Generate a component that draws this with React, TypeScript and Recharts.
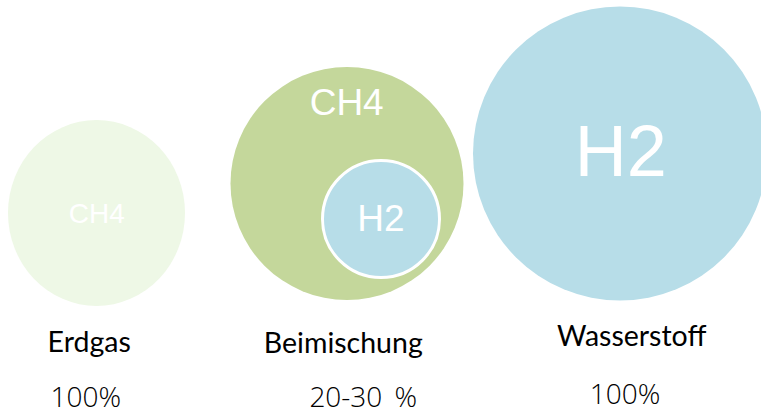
import React from 'react';
import { ScatterChart, Scatter, XAxis, YAxis, ZAxis } from 'recharts';

// gas mixes shown as bubbles
const gases = ['Erdgas', 'Beimischung', 'Wasserstoff'];
const shares = ['100%', '20-30 %', '100%'];
const bubbleGas = ['CH4', 'CH4', 'H2'];
const bubbleX = [96.5, 347, 620];
const bubbleY = [213, 183.5, 153.5];
const bubbleR = [88.5, 116.5, 147];
const bubbleStretch = [1.05, 1, 1];

// the hydrogen share inside the blend
const blendGas = ['H2'];
const blendX = [381];
const blendY = [219];
const blendR = [60];

// where the texts sit (baseline, centre)
const gasTextX = [96.7, 346.7, 620.8];
const gasTextY = [223.3, 115, 175.7];
const blendTextX = [381];
const blendTextY = [230.7];
const nameX = [89.2, 343.3, 631.7];
const nameY = [352, 353, 346];
const shareX = [85.8, 363.3, 625];
const shareY = [407, 407, 404];

const BUBBLE_COLORS = ['#eef8e6', '#c4d79b', '#b7dde8'];
const BLEND_COLOR = '#b7dde8';
const GAS_FONT = [28, 37, 72];
const BLEND_FONT = 37;

const bubbles = gases.map((g, i) => ({
    x: bubbleX[i],
    y: bubbleY[i],
    z: bubbleR[i] * bubbleR[i],
    stretch: bubbleStretch[i],
    fill: BUBBLE_COLORS[i],
}));
const blends = blendGas.map((g, i) => ({
    x: blendX[i],
    y: blendY[i],
    z: blendR[i] * blendR[i],
}));
const gasTexts = bubbleGas.map((t, i) => ({ x: gasTextX[i], y: gasTextY[i], text: t, size: GAS_FONT[i] }));
const blendTexts = blendGas.map((t, i) => ({ x: blendTextX[i], y: blendTextY[i], text: t, size: BLEND_FONT }));
const names = gases.map((t, i) => ({ x: nameX[i], y: nameY[i], text: t }));
const shareTexts = shares.map((t, i) => ({ x: shareX[i], y: shareY[i], text: t }));

const BubbleShape = (props: any) => {
    const { cx, cy, width, payload } = props;
    const r = width / 2;
    return <ellipse cx={cx} cy={cy} rx={r} ry={r * payload.stretch} fill={payload.fill} />;
};

const BlendShape = (props: any) => {
    const { cx, cy, width } = props;
    return <circle cx={cx} cy={cy} r={width / 2 - 1.5} fill={BLEND_COLOR} stroke="#ffffff" strokeWidth={3} />;
};

const makeText = (font: string, color: string, size?: number, weight?: number, spacing?: number) => (props: any) => {
    const { cx, cy, payload } = props;
    return (
        <text
            x={cx}
            y={cy}
            textAnchor="middle"
            fill={color}
            fontFamily={font}
            fontSize={payload.size ?? size}
            fontWeight={weight ?? 400}
            wordSpacing={spacing ?? 0}
        >
            {payload.text}
        </text>
    );
};

const App: React.FC = () => {
    return (
        <div style={{ position: 'absolute', left: 0, top: 0, background: '#ffffff' }}>
            <ScatterChart width={761} height={412} margin={{ top: 0, right: 0, bottom: 0, left: 0 }}>
                <XAxis type="number" dataKey="x" domain={[0, 761]} hide />
                <YAxis type="number" dataKey="y" domain={[0, 412]} reversed hide />
                <ZAxis type="number" dataKey="z" domain={[0, 100000]} range={[0, 100000 * Math.PI]} />
                <Scatter data={bubbles} shape={BubbleShape} isAnimationActive={false} />
                <Scatter data={blends} shape={BlendShape} isAnimationActive={false} />
                <Scatter data={gasTexts} shape={makeText('Liberation Sans, Arial, sans-serif', '#ffffff')} isAnimationActive={false} />
                <Scatter data={blendTexts} shape={makeText('Liberation Sans, Arial, sans-serif', '#ffffff')} isAnimationActive={false} />
                <Scatter data={names} shape={makeText('Lato, sans-serif', '#000000', 28.5)} isAnimationActive={false} />
                <Scatter data={shareTexts} shape={makeText('Open Sans, sans-serif', '#000000', 28, 300, 5)} isAnimationActive={false} />
            </ScatterChart>
        </div>
    );
};

export default App;
